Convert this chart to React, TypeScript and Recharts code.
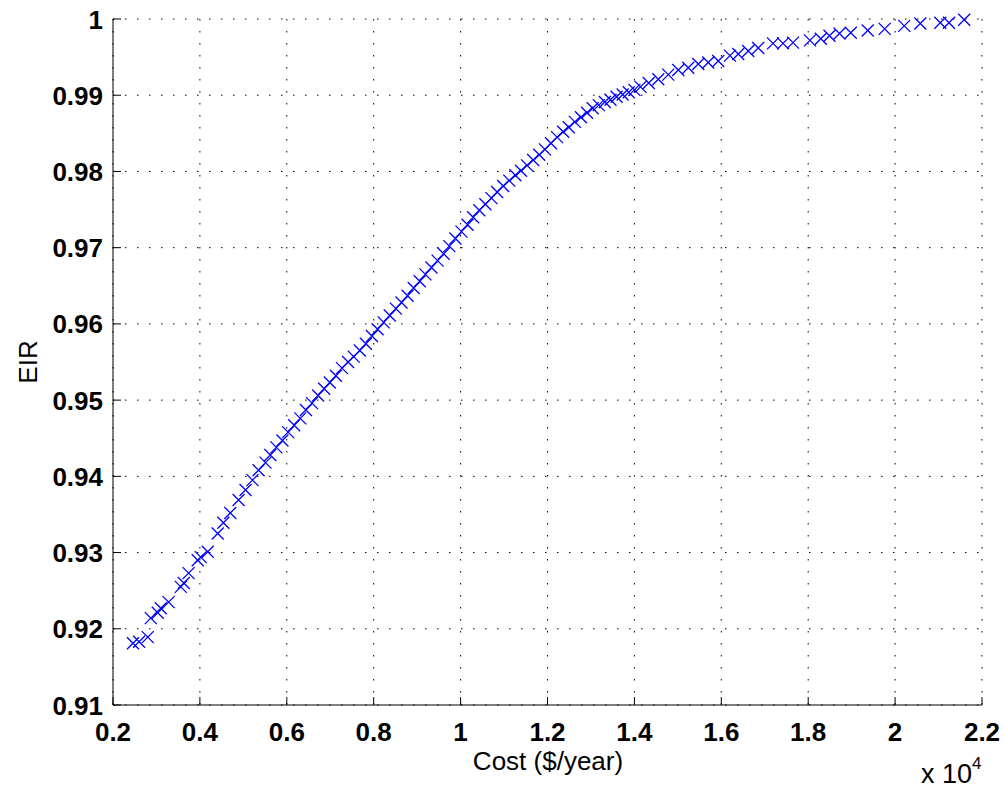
import { ScatterChart, Scatter, XAxis, YAxis, CartesianGrid } from "recharts"

// cost in units of 10^4 $/year
const costs = [
  0.246, 0.26, 0.28, 0.287, 0.303, 0.31, 0.328, 0.356, 0.363, 0.374, 0.395, 0.402, 0.418, 0.441, 0.454,
  0.47, 0.489, 0.505, 0.521, 0.535, 0.551, 0.562, 0.576, 0.59, 0.603, 0.617, 0.631, 0.644, 0.658, 0.672,
  0.686, 0.699, 0.713, 0.727, 0.741, 0.754, 0.768, 0.782, 0.796, 0.809, 0.823, 0.837, 0.851, 0.864, 0.878,
  0.892, 0.906, 0.919, 0.933, 0.947, 0.961, 0.974, 0.988, 1.002, 1.016, 1.029, 1.043, 1.057, 1.071, 1.084,
  1.098, 1.112, 1.126, 1.139, 1.153, 1.167, 1.181, 1.194, 1.208, 1.222, 1.236, 1.249, 1.263, 1.277, 1.291,
  1.304, 1.318, 1.332, 1.345, 1.359, 1.373, 1.387, 1.4, 1.414, 1.433, 1.455, 1.478, 1.501, 1.524, 1.547,
  1.57, 1.593, 1.62, 1.639, 1.662, 1.685, 1.719, 1.742, 1.765, 1.804, 1.829, 1.849, 1.872, 1.898, 1.937,
  1.976, 2.021, 2.058, 2.104, 2.124, 2.159,
]

const eir = [
  0.9181, 0.9183, 0.9189, 0.9214, 0.9221, 0.9227, 0.9235, 0.9255, 0.926, 0.9273, 0.929, 0.9294, 0.9301, 0.9325, 0.9339,
  0.9352, 0.9369, 0.9382, 0.9395, 0.9408, 0.9418, 0.9428, 0.9438, 0.9447, 0.9458, 0.9467, 0.9476, 0.9487, 0.9496, 0.9506,
  0.9515, 0.9523, 0.9532, 0.9542, 0.955, 0.9557, 0.9565, 0.9574, 0.9584, 0.9593, 0.9602, 0.9611, 0.962, 0.9628, 0.9637,
  0.9647, 0.9656, 0.9665, 0.9674, 0.9683, 0.9692, 0.9702, 0.9712, 0.9721, 0.973, 0.974, 0.9749, 0.9757, 0.9765, 0.9773,
  0.9781, 0.9788, 0.9795, 0.9801, 0.9808, 0.9815, 0.9822, 0.9829, 0.9837, 0.9845, 0.9852, 0.9858, 0.9865, 0.9871, 0.9877,
  0.9883, 0.9887, 0.9891, 0.9894, 0.9898, 0.9901, 0.9904, 0.9907, 0.9911, 0.9916, 0.9921, 0.9927, 0.9933, 0.9936, 0.9941,
  0.9943, 0.9945, 0.9952, 0.9954, 0.9958, 0.9962, 0.9968, 0.9968, 0.9969, 0.9972, 0.9974, 0.9978, 0.9981, 0.9982, 0.9985,
  0.9987, 0.9991, 0.9994, 0.9995, 0.9995, 0.9999,
]

const xTicks = [0.2, 0.4, 0.6, 0.8, 1, 1.2, 1.4, 1.6, 1.8, 2, 2.2]
const yTicks = [0.91, 0.92, 0.93, 0.94, 0.95, 0.96, 0.97, 0.98, 0.99, 1]

const points = costs.map((c, i) => ({ cost: c, eir: eir[i] }))

const FONT = "'Liberation Sans', Arial, Helvetica, sans-serif"
const TICK_LEN = 8

const Cross = (props: any) => {
  const { cx, cy } = props
  const s = 6
  return (
    <path
      d={`M${cx - s},${cy - s}L${cx + s},${cy + s}M${cx - s},${cy + s}L${cx + s},${cy - s}`}
      stroke="#0000ff"
      strokeWidth={1.3}
      fill="none"
    />
  )
}

const BottomTick = (props: any) => {
  const { x, y, payload } = props
  return (
    <g>
      <line x1={x} x2={x} y1={y} y2={y - TICK_LEN} stroke="#000" />
      <text x={x} y={y + 36} textAnchor="middle" fontFamily={FONT} fontSize={26} fontWeight="bold" fill="#000">
        {payload.value}
      </text>
    </g>
  )
}

const LeftTick = (props: any) => {
  const { x, y, payload } = props
  return (
    <g>
      <line x1={x} x2={x + TICK_LEN} y1={y} y2={y} stroke="#000" />
      <text x={x - 10} y={y + 9.5} textAnchor="end" fontFamily={FONT} fontSize={26} fontWeight="bold" fill="#000">
        {payload.value}
      </text>
    </g>
  )
}

const TopTick = (props: any) => {
  const { x, y } = props
  return <line x1={x} x2={x} y1={y} y2={y + TICK_LEN} stroke="#000" />
}

const RightTick = (props: any) => {
  const { x, y } = props
  return <line x1={x} x2={x - TICK_LEN} y1={y} y2={y} stroke="#000" />
}

export default function App() {
  return (
    <div style={{ position: "absolute", left: 0, top: 0, width: 1005, height: 788, background: "#fff" }}>
      <ScatterChart width={1005} height={788} margin={{ top: 19, right: 23, bottom: 0, left: 0 }}>
        <CartesianGrid stroke="#000" strokeWidth={1} strokeDasharray="1.5 10.5" />
        <XAxis
          type="number"
          dataKey="cost"
          domain={[0.2, 2.2]}
          ticks={xTicks}
          height={83}
          tickSize={0}
          tickMargin={0}
          tick={<BottomTick />}
          axisLine={{ stroke: "#000" }}
          tickLine={false}
          interval={0}
        />
        <XAxis
          xAxisId="top"
          orientation="top"
          type="number"
          domain={[0.2, 2.2]}
          ticks={xTicks}
          height={0}
          tickSize={0}
          tickMargin={0}
          tick={<TopTick />}
          axisLine={{ stroke: "#000" }}
          tickLine={false}
          interval={0}
        />
        <YAxis
          type="number"
          dataKey="eir"
          domain={[0.91, 1]}
          ticks={yTicks}
          width={113}
          tickSize={0}
          tickMargin={0}
          tick={<LeftTick />}
          axisLine={{ stroke: "#000" }}
          tickLine={false}
          interval={0}
        />
        <YAxis
          yAxisId="right"
          orientation="right"
          type="number"
          domain={[0.91, 1]}
          ticks={yTicks}
          width={0}
          tickSize={0}
          tickMargin={0}
          tick={<RightTick />}
          axisLine={{ stroke: "#000" }}
          tickLine={false}
          interval={0}
        />
        <Scatter data={points} shape={Cross} isAnimationActive={false} />
        <text x={548} y={770} textAnchor="middle" fontFamily={FONT} fontSize={26} fill="#000">
          Cost ($/year)
        </text>
        <text
          x={37}
          y={362}
          textAnchor="middle"
          transform="rotate(-90 37 362)"
          fontFamily={FONT}
          fontSize={26}
          fill="#000"
        >
          EIR
        </text>
        <text x={921} y={783} fontFamily={FONT} fontSize={27} fill="#000">
          x 10
          <tspan dy={-14} fontSize={17}>
            4
          </tspan>
        </text>
      </ScatterChart>
    </div>
  )
}
